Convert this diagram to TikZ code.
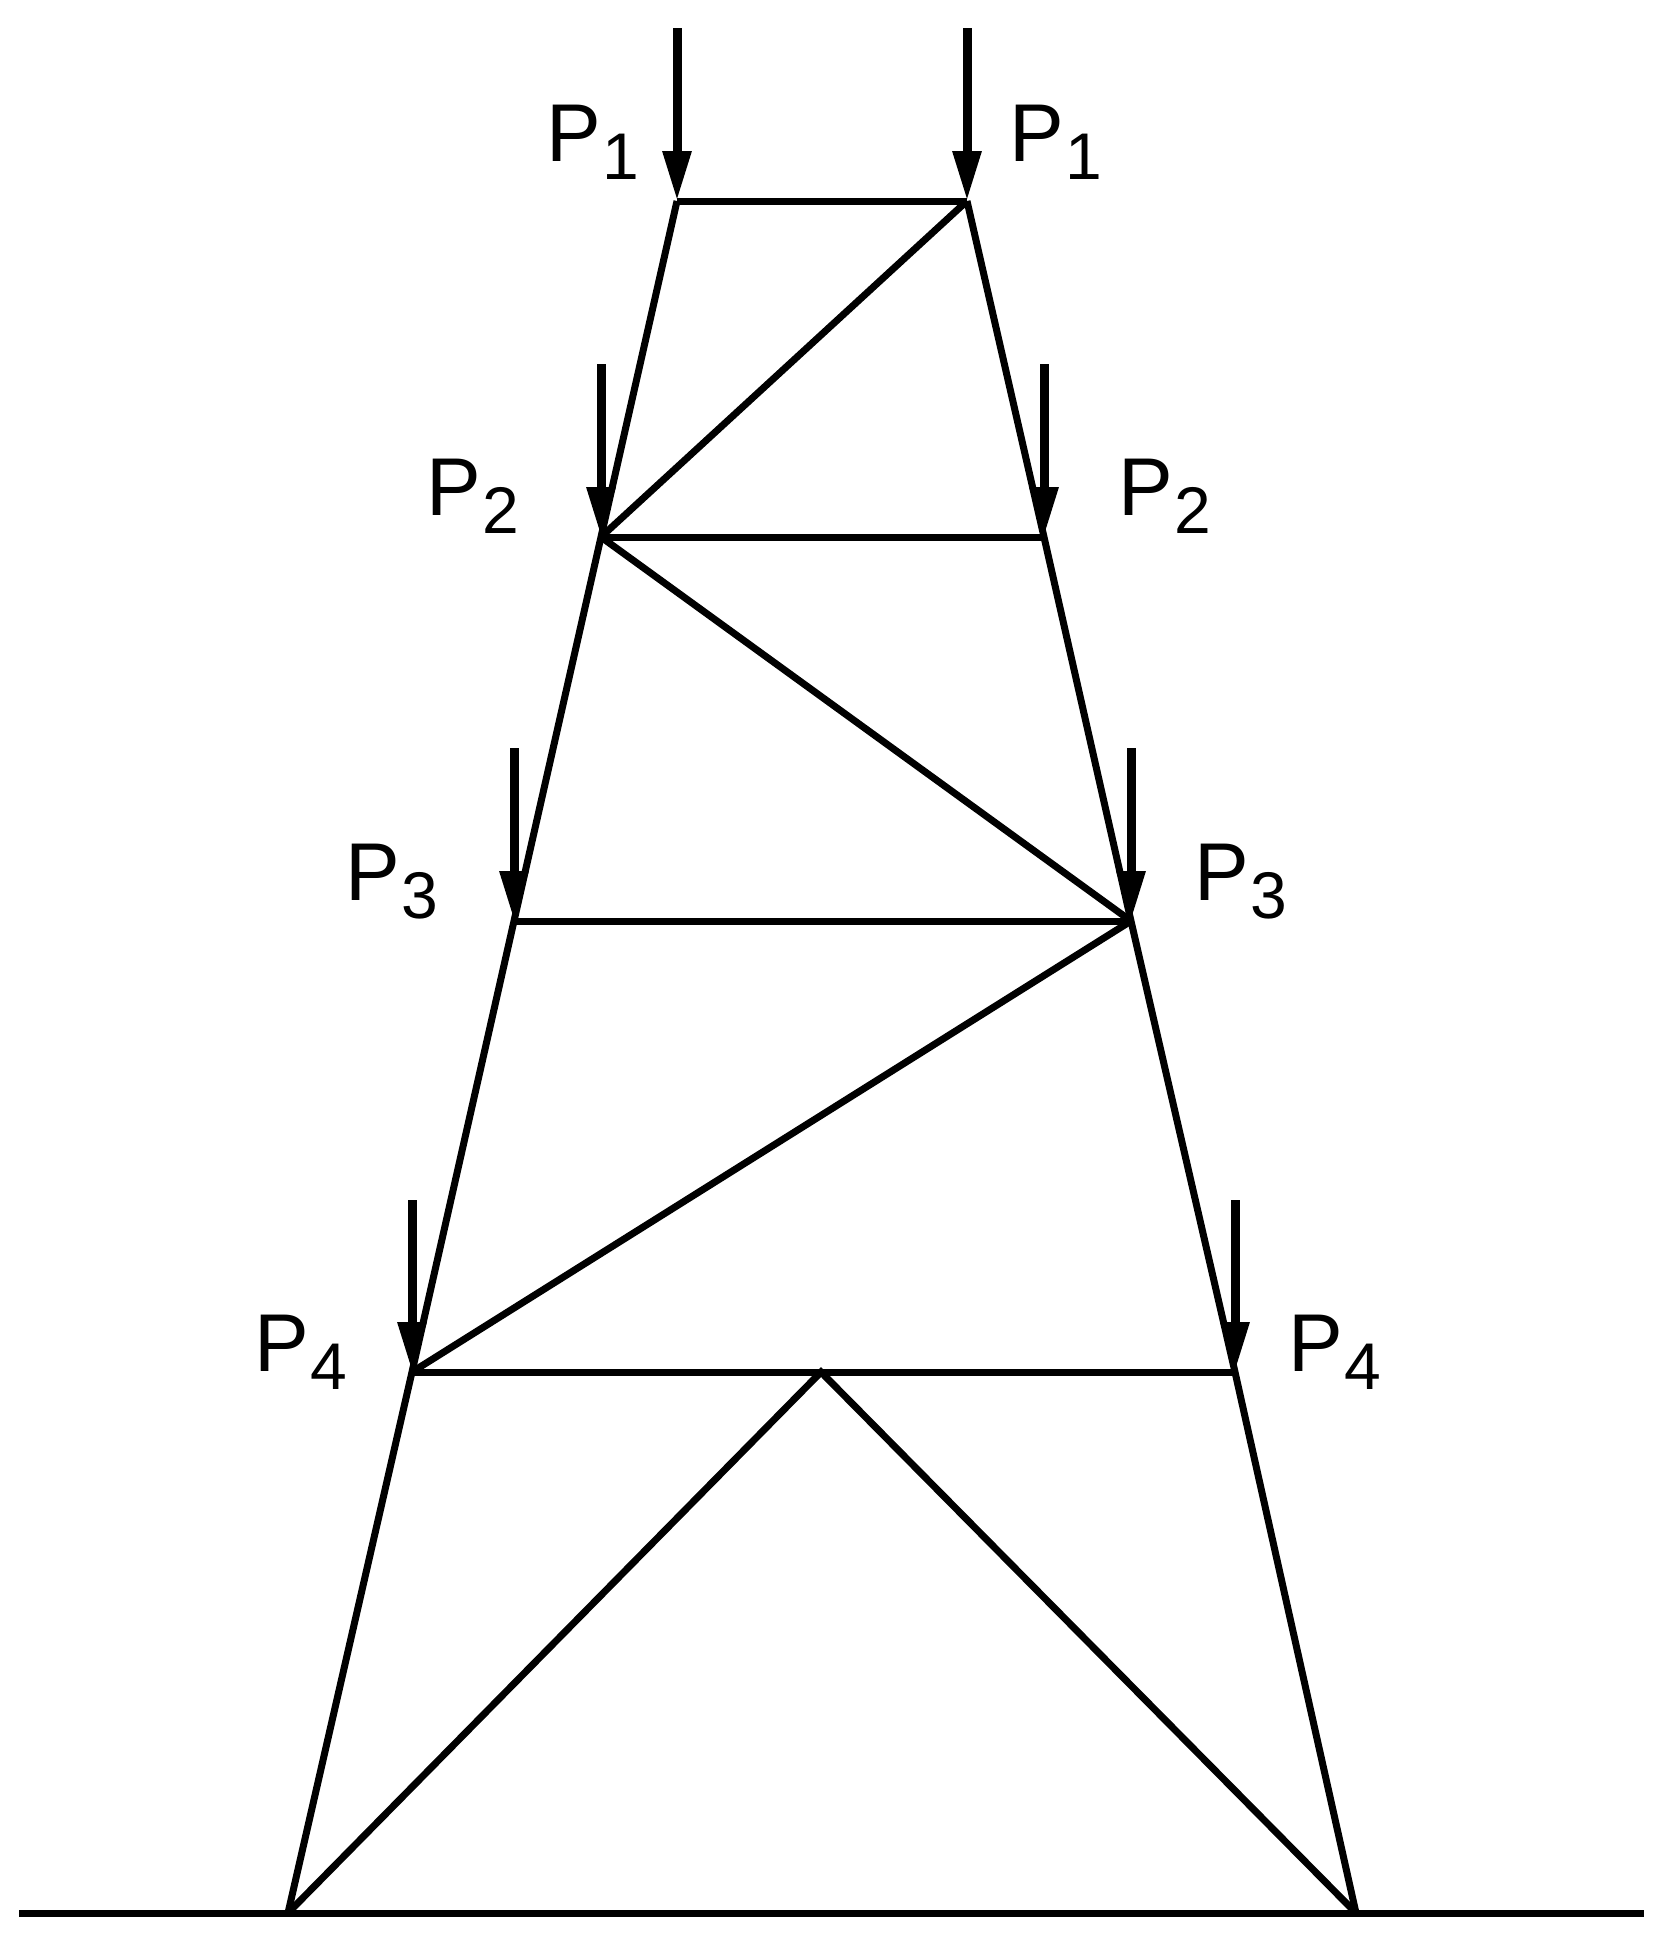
\documentclass[tikz,border=0pt]{standalone}
\usepackage{fontspec}
\setmainfont{Liberation Sans}
\usetikzlibrary{arrows.meta}
\newcommand{\loadname}[1]{P\hspace{2pt}\raisebox{-18pt}{\fontsize{66}{66}\selectfont #1}}
\begin{document}
\begin{tikzpicture}[x=1pt, y=-1pt, line join=miter,
    member/.style={line width=7pt},
    load/.style={line width=9pt, -{Triangle[length=50pt, width=27pt]}},
    nodes={inner sep=0pt, anchor=base west, font=\fontsize{82}{82}\selectfont}]
 \useasboundingbox (0,0) rectangle (1667,1947);
 % joints
 \coordinate (l1) at (677,201);
 \coordinate (r1) at (967,201);
 \coordinate (l2) at (601,537);
 \coordinate (r2) at (1044,537);
 \coordinate (l3) at (514,921);
 \coordinate (r3) at (1131,921);
 \coordinate (l4) at (412,1372);
 \coordinate (r4) at (1235,1372);
 \coordinate (apex) at (821,1372);
 \coordinate (bl) at (288,1913);
 \coordinate (br) at (1356,1913);
 \coordinate (gl) at (19,1913);
 \coordinate (gr) at (1644,1913);
 % free ends of the loads
 \coordinate (tl1) at (677,28);
 \coordinate (tr1) at (967,28);
 \coordinate (tl2) at (601,364);
 \coordinate (tr2) at (1044,364);
 \coordinate (tl3) at (514,748);
 \coordinate (tr3) at (1131,748);
 \coordinate (tl4) at (412,1200);
 \coordinate (tr4) at (1235,1200);
 % legs and bars
 \draw[member] (l1) -- (l2) -- (l3) -- (l4) -- (bl);
 \draw[member] (r1) -- (r2) -- (r3) -- (r4) -- (br);
 \draw[member] (l1) -- (r1);
 \draw[member] (l2) -- (r2);
 \draw[member] (l3) -- (r3);
 \draw[member] (l4) -- (r4);
 \draw[member] (r1) -- (l2);
 \draw[member] (l2) -- (r3);
 \draw[member] (r3) -- (l4);
 \draw[member] (bl) -- (apex) -- (br);
 \draw[member] (gl) -- (gr);
 % loads
 \draw[load] (tl1) -- (l1);
 \draw[load] (tr1) -- (r1);
 \draw[load] (tl2) -- (l2);
 \draw[load] (tr2) -- (r2);
 \draw[load] (tl3) -- (l3);
 \draw[load] (tr3) -- (r3);
 \draw[load] (tl4) -- (l4);
 \draw[load] (tr4) -- (r4);
 % labels
 \node (p1l) at (546,161) {\loadname{1}};
 \node (p1r) at (1009,161) {\loadname{1}};
 \node (p2l) at (426,515) {\loadname{2}};
 \node (p2r) at (1118,515) {\loadname{2}};
 \node (p3l) at (345,900) {\loadname{3}};
 \node (p3r) at (1194,900) {\loadname{3}};
 \node (p4l) at (254,1371) {\loadname{4}};
 \node (p4r) at (1288,1371) {\loadname{4}};
\end{tikzpicture}
\end{document}
